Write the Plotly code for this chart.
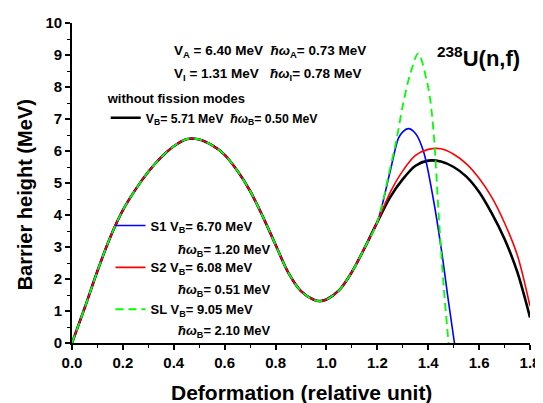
import plotly.graph_objects as go

# ---- data ----
x_common = [0.0, 0.05, 0.1, 0.15, 0.2, 0.25, 0.3, 0.35, 0.4, 0.45, 0.5, 0.55, 0.6, 0.65,
            0.7, 0.75, 0.8, 0.85, 0.9, 0.95, 0.975, 1.0, 1.05, 1.1, 1.15, 1.2]
y_common = [0.0, 1.1, 2.25, 3.3, 4.15, 4.8, 5.35, 5.8, 6.15, 6.37, 6.36, 6.18, 5.88, 5.38,
            4.75, 3.95, 3.07, 2.2, 1.62, 1.35, 1.31, 1.36, 1.65, 2.22, 2.97, 3.78]

x_black_tail = [1.25, 1.3, 1.35, 1.4, 1.45, 1.5, 1.55, 1.6, 1.65, 1.7, 1.75, 1.8]
y_black_tail = [4.55, 5.12, 5.54, 5.70, 5.67, 5.50, 5.20, 4.72, 4.05, 3.25, 2.22, 0.80]

x_s1_tail = [1.25, 1.283, 1.3, 1.322, 1.35, 1.381, 1.42, 1.453, 1.479, 1.503]
y_s1_tail = [5.35, 6.40, 6.60, 6.70, 6.55, 6.00, 4.50, 2.85, 1.33, 0.0]

x_s2_tail = [1.25, 1.3, 1.35, 1.4, 1.45, 1.5, 1.55, 1.6, 1.65, 1.7, 1.75, 1.8]
y_s2_tail = [4.70, 5.38, 5.86, 6.05, 6.07, 5.90, 5.60, 5.15, 4.55, 3.75, 2.75, 1.15]

x_sl_tail = [1.25, 1.274, 1.302, 1.329, 1.361, 1.394, 1.408, 1.423, 1.442, 1.461, 1.48]
y_sl_tail = [5.45, 6.30, 7.50, 8.40, 9.05, 8.20, 7.60, 6.40, 3.90, 1.75, 0.0]

x_ticks = [0.0, 0.2, 0.4, 0.6, 0.8, 1.0, 1.2, 1.4, 1.6, 1.8]
x_tick_text = ["0.0", "0.2", "0.4", "0.6", "0.8", "1.0", "1.2", "1.4", "1.6", "1.8"]
y_ticks = [0, 1, 2, 3, 4, 5, 6, 7, 8, 9, 10]

mode_names = ["S1", "S2", "SL"]
mode_vb = ["6.70", "6.08", "9.05"]
mode_hw = ["1.20", "0.51", "2.10"]
mode_colors = ["#0000ff", "#ff0000", "#00ff00"]
mode_tails_x = [x_s1_tail, x_s2_tail, x_sl_tail]
mode_tails_y = [y_s1_tail, y_s2_tail, y_sl_tail]

FONT = "Liberation Sans, Arial, sans-serif"
HW = "<i>ħω</i>"

fig = go.Figure()

fig.add_trace(go.Scatter(
    x=x_common + x_black_tail, y=y_common + y_black_tail, mode="lines",
    line=dict(color="black", width=2.6, shape="spline", smoothing=0.9),
    name=f"V<sub>B</sub>= 5.71 MeV  {HW}<sub>B</sub>= 0.50 MeV", legend="legend",
    legendgroup="g0"))

for i in range(3):
    line = dict(color=mode_colors[i], width=1.6, shape="spline", smoothing=0.9)
    if mode_names[i] == "SL":
        line.update(width=1.8, dash="8px,5px")
    fig.add_trace(go.Scatter(
        x=x_common + mode_tails_x[i], y=y_common + mode_tails_y[i], mode="lines", line=line,
        name=f"{mode_names[i]} V<sub>B</sub>= {mode_vb[i]} MeV", legend="legend2",
        legendgroup=f"g{i+1}"))

axis_common = dict(showline=True, linecolor="black", linewidth=1.6, showgrid=False,
                   zeroline=False, ticks="outside", ticklen=5, tickwidth=1.5, tickcolor="black",
                   automargin=False,
                   tickfont=dict(family=FONT, size=15, color="black", weight="bold"))

# the page body adds an 8px offset, so the figure is 8px smaller than the window
fig.update_layout(
    width=535, height=395,
    margin=dict(l=64, r=12.5, t=14.7, b=60.3),
    paper_bgcolor="white", plot_bgcolor="white",
    font=dict(family=FONT, color="black"),
    xaxis=dict(range=[0, 1.8], tickvals=x_ticks, ticktext=x_tick_text,
               minor=dict(dtick=0.1, ticks="outside", ticklen=3, tickwidth=1.2, tickcolor="black"),
               **axis_common),
    yaxis=dict(range=[0, 10], tickvals=y_ticks,
               minor=dict(dtick=0.5, ticks="outside", ticklen=3, tickwidth=1.2, tickcolor="black"),
               **axis_common),
    xaxis2=dict(range=[0, 1.8], overlaying="x", side="top", anchor="y", showline=True,
                linecolor="black", linewidth=1.6, showgrid=False, zeroline=False, automargin=False,
                ticks="inside", ticklen=5, tickwidth=1.5, tickcolor="black", tickvals=x_ticks,
                showticklabels=False,
                minor=dict(dtick=0.1, ticks="inside", ticklen=3, tickwidth=1.2, tickcolor="black")),
    yaxis2=dict(range=[0, 10], overlaying="y", side="right", anchor="x", showline=True,
                linecolor="black", linewidth=1.6, showgrid=False, zeroline=False, automargin=False,
                ticks="inside", ticklen=5, tickwidth=1.5, tickcolor="black", tickvals=y_ticks,
                showticklabels=False,
                minor=dict(dtick=0.5, ticks="inside", ticklen=3, tickwidth=1.2, tickcolor="black")),
    legend=dict(x=0.0736, y=0.802, xanchor="left", yanchor="top", bgcolor="rgba(0,0,0,0)",
                title=dict(text="<b>without fission modes</b>", font=dict(family=FONT, size=13)),
                font=dict(family=FONT, size=12.3, color="black", weight="bold"),
                itemwidth=30, tracegroupgap=0),
    legend2=dict(x=0.084, y=0.414, xanchor="left", yanchor="top", bgcolor="rgba(0,0,0,0)",
                 font=dict(family=FONT, size=13, color="black", weight="bold"),
                 itemwidth=30, valign="middle", tracegroupgap=22),
    showlegend=True,
)

# second text line of each fission-mode legend entry
hw_y = [0.29, 0.165, 0.037]
for i in range(3):
    fig.add_annotation(xref="paper", yref="paper", x=0.227, y=hw_y[i], xanchor="left", yanchor="middle",
                       text=f"<b>{HW}<sub>B</sub>= {mode_hw[i]} MeV</b>", showarrow=False,
                       font=dict(family=FONT, size=13, color="black"))

# axis titles
fig.add_annotation(xref="paper", yref="paper", x=0.5, y=-0.154, xanchor="center", yanchor="middle",
                   text="<b>Deformation (relative unit)</b>", showarrow=False,
                   font=dict(family=FONT, size=21, color="black"))
fig.add_annotation(xref="paper", yref="paper", x=-0.1025, y=0.4616, xanchor="center", yanchor="middle",
                   text="<b>Barrier height (MeV)</b>", showarrow=False, textangle=-90,
                   font=dict(family=FONT, size=20, color="black"))

fig.add_annotation(xref="paper", yref="paper", x=0.218, y=0.91, xanchor="left", yanchor="middle",
                   text=f"<b>V<sub>A</sub> = 6.40 MeV  {HW}<sub>A</sub>= 0.73 MeV</b>",
                   showarrow=False, font=dict(family=FONT, size=13.5, color="black"))
fig.add_annotation(xref="paper", yref="paper", x=0.218, y=0.838, xanchor="left", yanchor="middle",
                   text=f"<b>V<sub>I</sub> = 1.31 MeV   {HW}<sub>I</sub>= 0.78 MeV</b>",
                   showarrow=False, font=dict(family=FONT, size=13.5, color="black"))
fig.add_annotation(xref="paper", yref="paper", x=0.983, y=0.894, xanchor="right", yanchor="middle",
                   text="<b><sup>238</sup>U(n,f)</b>",
                   showarrow=False, font=dict(family=FONT, size=22, color="black"))

fig.write_html("out.html")
